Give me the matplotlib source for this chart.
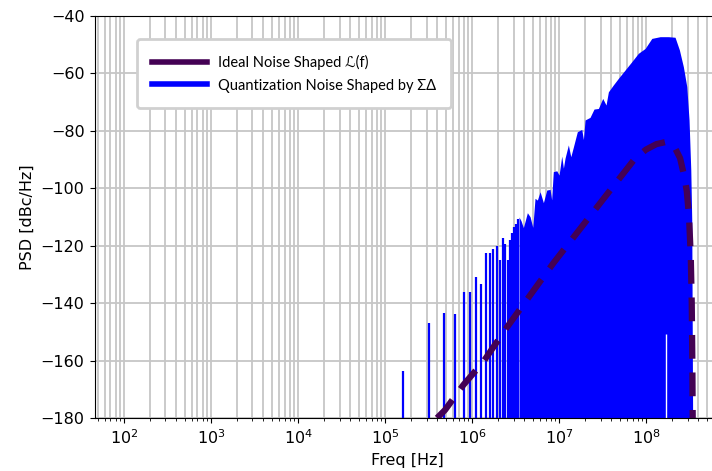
import numpy as np
import matplotlib
matplotlib.use("Agg")
import matplotlib.pyplot as plt
from matplotlib.lines import Line2D

# Discrete low-frequency tones of the sigma-delta quantization noise (Hz, dBc/Hz)
TONE_FREQ = [0.16e6, 0.32e6, 0.48e6, 0.64e6, 0.80e6, 0.96e6, 1.12e6, 1.28e6,
             1.44e6, 1.60e6, 1.76e6, 1.92e6, 2.08e6, 2.24e6, 2.40e6, 2.56e6,
             2.72e6, 2.88e6, 3.04e6, 3.20e6, 3.36e6]
TONE_PSD = [-163.5, -146.8, -143.6, -143.8, -136.2, -136.2, -130.8, -133.5,
            -122.4, -122.4, -121.2, -120.2, -125.0, -117.4, -119.4, -125.0,
            -118.0, -115.5, -113.4, -112.4, -110.8]

# Upper envelope of the dense part of the spectrum (log10 Hz, dBc/Hz)
ENV_LOG_F = [6.540, 6.563, 6.590, 6.636, 6.667, 6.698, 6.724, 6.751, 6.782,
             6.820, 6.859, 6.897, 6.915, 6.934, 6.974, 7.000, 7.031, 7.050,
             7.069, 7.107, 7.135, 7.164, 7.210, 7.261, 7.280, 7.299, 7.356,
             7.402, 7.452, 7.502, 7.540, 7.567, 7.624, 7.682, 7.759, 7.836,
             7.911, 7.989, 8.066, 8.161, 8.257, 8.333, 8.383, 8.429, 8.468,
             8.494, 8.514, 8.525, 8.536]
ENV_PSD = [-110.0, -111.3, -113.7, -108.5, -109.9, -113.6, -103.5, -104.1,
           -101.2, -105.0, -100.6, -100.4, -104.0, -94.2, -93.9, -95.4, -88.8,
           -93.0, -89.5, -84.9, -89.0, -85.7, -80.3, -79.5, -83.0, -76.2,
           -75.3, -72.4, -72.2, -68.7, -71.0, -66.4, -64.0, -61.7, -58.8,
           -55.9, -53.0, -51.3, -47.8, -47.2, -47.2, -47.4, -51.8, -57.7,
           -64.6, -76.2, -93.6, -111.0, -185.0]

# notch in the spectrum
NOTCH_FREQ = 1.68e8
NOTCH_TOP = -150.9

# Ideal noise-shaped curve L(f)
IDEAL_LOG_F = [5.598, 5.690, 5.900, 6.130, 6.406, 6.934, 7.605, 7.874, 8.000,
               8.120, 8.238, 8.333, 8.391, 8.440, 8.468, 8.494, 8.514, 8.525,
               8.532, 8.536]
IDEAL_PSD = [-180.0, -177.2, -168.5, -160.4, -148.2, -126.1, -100.0, -89.6,
             -86.5, -84.6, -83.8, -86.0, -89.5, -96.0, -101.0, -110.0, -124.0,
             -140.0, -161.0, -180.0]

X_TICKS = [1e2, 1e3, 1e4, 1e5, 1e6, 1e7, 1e8]
Y_TICKS = [-180, -160, -140, -120, -100, -80, -60, -40]

BLUE = "#0000ff"
PURPLE = "#440154"

fig = plt.figure(figsize=(7.12, 4.71), dpi=100)
ax = fig.add_axes([0.1334, 0.1125, 0.878, 0.8535])

ax.vlines(TONE_FREQ, -200, TONE_PSD, color=BLUE, lw=1.6)
ax.fill_between(10 ** np.array(ENV_LOG_F), -200, ENV_PSD, color=BLUE, lw=0)
ax.vlines([NOTCH_FREQ], -200, [NOTCH_TOP], color="white", lw=1.0)
ax.plot(10 ** np.array(IDEAL_LOG_F), IDEAL_PSD, color=PURPLE, lw=4.5,
        ls=(0, (3.8, 2.2)))

ax.set_xscale("log")
ax.set_xlim(10 ** 1.667, 10 ** 8.851)
ax.set_ylim(-180, -40)
ax.set_xticks(X_TICKS)
ax.set_yticks(Y_TICKS)
ax.grid(True, which="both", axis="x", color="#c6c6c6", lw=1.3)
ax.grid(True, which="major", axis="y", color="#c6c6c6", lw=1.3)
ax.set_axisbelow(True)
ax.tick_params(labelsize=11.5, pad=4)
ax.set_xlabel("Freq [Hz]", fontsize=11.5)
ax.set_ylabel("PSD [dBc/Hz]", fontsize=11.5)

handles = [Line2D([], [], color=PURPLE, lw=4),
           Line2D([], [], color=BLUE, lw=4)]
labels = ["Ideal Noise Shaped \u2112(f)",
          "Quantization Noise Shaped by \u03a3\u0394"]
leg = ax.legend(handles, labels, loc="upper left",
                bbox_to_anchor=(0.055, 0.96), handlelength=3.8,
                handletextpad=0.7,
                prop={"family": ["Lato", "DejaVu Sans"], "size": 10.5},
                framealpha=1, edgecolor="#d0d0d0", fancybox=True,
                borderpad=1.05, labelspacing=0.6)
leg.get_frame().set_linewidth(2.0)

fig.savefig("out.png", dpi=100)
